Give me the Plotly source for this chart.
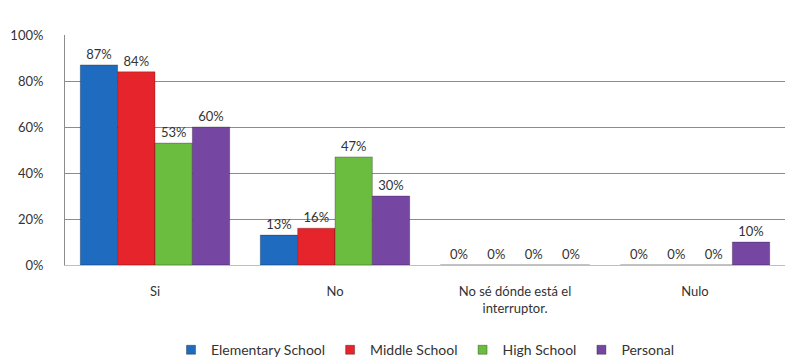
import plotly.graph_objects as go

categories = ["Si", "No", "No sé dónde está el<br>interruptor.", "Nulo"]
series_names = ["Elementary School", "Middle School", "High School", "Personal"]
elementary = [0.87, 0.13, 0.0, 0.0]
middle = [0.84, 0.16, 0.0, 0.0]
high = [0.53, 0.47, 0.0, 0.0]
personal = [0.60, 0.30, 0.0, 0.10]
colors = ["#1E6BC0", "#E5252B", "#6ABD3F", "#7546A2"]
y_ticks = [0, 0.2, 0.4, 0.6, 0.8, 1.0]
y_tick_labels = ["0%", "20%", "40%", "60%", "80%", "100%"]

fig = go.Figure()
for name, vals, col in zip(series_names, [elementary, middle, high, personal], colors):
    fig.add_trace(go.Bar(
        x=categories, y=vals, name=name,
        marker=dict(color=col, line=dict(color="rgba(0,0,0,0.25)", width=1)),
        text=[f"{round(v*100)}%" for v in vals],
        textposition="outside",
        textfont=dict(size=13, color="#333333"),
        cliponaxis=False,
        showlegend=False,
    ))
    # legend entry with small square swatch
    fig.add_trace(go.Scatter(
        x=[None], y=[None], mode="markers", name=name,
        marker=dict(symbol="square", size=9, color=col,
                    line=dict(color="rgba(0,0,0,0.3)", width=1)),
        showlegend=True,
    ))

fig.update_layout(
    width=809, height=364,
    margin=dict(l=65, r=24, t=35, b=99, autoexpand=False),
    paper_bgcolor="white", plot_bgcolor="white",
    barmode="group", bargap=0.17, bargroupgap=0.0,
    font=dict(family="Lato, 'Open Sans', sans-serif", size=13, color="#333333"),
    showlegend=True,
    legend=dict(orientation="h", x=0.5, xanchor="center", xref="paper",
                y=0.038, yanchor="middle", yref="container",
                font=dict(size=14, color="#333333"), itemwidth=30,
                traceorder="normal", tracegroupgap=0),
    xaxis=dict(showgrid=False, showline=True, linecolor="#BFBFBF", linewidth=1,
               tickfont=dict(size=13), ticks="", ticklabelstandoff=14),
    yaxis=dict(range=[0, 1.0], tickvals=y_ticks, ticktext=y_tick_labels,
               showgrid=True, gridcolor="#8C8C8C", gridwidth=1,
               showline=True, linecolor="#8C8C8C", zeroline=False,
               tickfont=dict(size=13), ticks="", ticklabelstandoff=18),
)

fig.write_html("out.html")
